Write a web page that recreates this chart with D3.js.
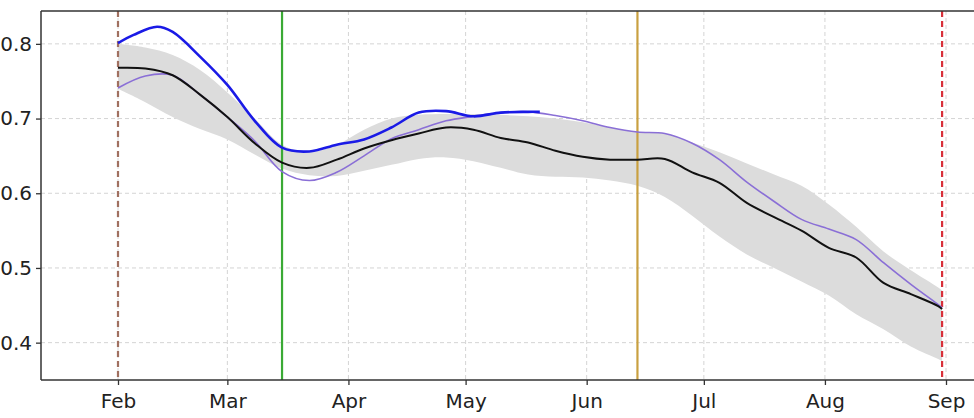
<!DOCTYPE html>
<html>
<head>
<meta charset="utf-8">
<script src="https://cdn.jsdelivr.net/npm/d3@7"></script>
<style>
  body { margin: 0; background: #fff; }
  svg { display: block; }
  .tick text { font-family: "DejaVu Sans", sans-serif; fill: #222; }
</style>
</head>
<body>
<div id="chart"></div>
<script>
// dates every week, Feb -> end of Aug
var dates = ["2021-02-01","2021-02-08","2021-02-15","2021-02-22","2021-03-01","2021-03-08",
  "2021-03-15","2021-03-22","2021-03-29","2021-04-05","2021-04-12","2021-04-19","2021-04-26",
  "2021-05-03","2021-05-10","2021-05-17","2021-05-24","2021-05-31","2021-06-07","2021-06-14",
  "2021-06-21","2021-06-28","2021-07-05","2021-07-12","2021-07-19","2021-07-26","2021-08-02",
  "2021-08-09","2021-08-16","2021-08-23","2021-08-30","2021-08-31"];

var median = [0.768,0.767,0.758,0.732,0.702,0.667,0.641,0.634,0.645,0.660,0.671,0.680,0.688,
  0.685,0.674,0.668,0.657,0.649,0.645,0.645,0.646,0.628,0.614,0.587,0.568,0.550,0.527,
  0.514,0.480,0.465,0.449,0.445];

var purple = [0.741,0.757,0.758,0.732,0.702,0.670,0.629,0.617,0.628,0.650,0.673,0.685,0.697,
  0.703,0.708,0.709,0.704,0.697,0.688,0.682,0.680,0.667,0.645,0.615,0.589,0.565,0.552,
  0.538,0.507,0.478,0.451,0.447];

var bandUpper = [0.800,0.795,0.785,0.765,0.735,0.700,0.665,0.655,0.665,0.685,0.700,0.705,0.706,
  0.706,0.705,0.703,0.700,0.695,0.688,0.682,0.680,0.668,0.655,0.640,0.625,0.610,0.585,
  0.555,0.522,0.497,0.474,0.470];

var bandLower = [0.740,0.722,0.702,0.686,0.672,0.652,0.633,0.624,0.623,0.630,0.638,0.646,0.648,
  0.643,0.634,0.625,0.622,0.621,0.617,0.610,0.595,0.570,0.542,0.518,0.500,0.482,0.463,
  0.438,0.418,0.395,0.378,0.375];

// blue series stops in late May
var blueDates = ["2021-02-01","2021-02-05","2021-02-11","2021-02-15","2021-02-22","2021-03-01","2021-03-08",
  "2021-03-15","2021-03-22","2021-03-29","2021-04-05","2021-04-12","2021-04-19","2021-04-26",
  "2021-05-03","2021-05-10","2021-05-17","2021-05-20"];
var blue = [0.801,0.812,0.823,0.816,0.783,0.745,0.697,0.661,0.656,0.665,0.672,0.688,0.708,0.710,
  0.703,0.708,0.709,0.709];

var monthTicks = ["2021-02-01","2021-03-01","2021-04-01","2021-05-01","2021-06-01",
  "2021-07-01","2021-08-01","2021-09-01"];
var yTicks = [0.4, 0.5, 0.6, 0.7, 0.8];

var vlines = [
  {date: "2021-02-01", color: "#a07060", dash: "6,4"},
  {date: "2021-03-15", color: "#3aaa35", dash: null},
  {date: "2021-06-14", color: "#c9a040", dash: null},
  {date: "2021-08-31", color: "#d8303a", dash: "6,4"}
];

var parse = d3.utcParse("%Y-%m-%d");

var margin = {top: 11, right: 0, bottom: 38, left: 41};
var W = 974, H = 418;
var width = 990 - margin.left;   // plot runs past the right edge (cropped)
var height = H - margin.top - margin.bottom;

var svg = d3.select("#chart").append("svg")
  .attr("width", W)
  .attr("height", H);

var g = svg.append("g")
  .attr("transform", "translate(" + margin.left + "," + margin.top + ")");

var x = d3.scaleUtc()
  .domain([parse("2021-02-01"), parse("2021-09-01")])
  .range([77, 905]);

var y = d3.scaleLinear()
  .domain([0.35, 0.844])
  .range([height, 0]);

// grid
g.selectAll(".vgrid").data(monthTicks).enter().append("line")
  .attr("x1", d => x(parse(d))).attr("x2", d => x(parse(d)))
  .attr("y1", 0).attr("y2", height)
  .attr("stroke", "#d4d4d4").attr("stroke-width", 1).attr("stroke-dasharray", "4,3");

g.selectAll(".hgrid").data(yTicks).enter().append("line")
  .attr("x1", 0).attr("x2", width)
  .attr("y1", d => y(d)).attr("y2", d => y(d))
  .attr("stroke", "#d4d4d4").attr("stroke-width", 1).attr("stroke-dasharray", "4,3");

var curve = d3.curveCatmullRom.alpha(0.5);

// band
var bandData = dates.map((d, i) => ({date: parse(d), lo: bandLower[i], hi: bandUpper[i]}));
g.append("path")
  .datum(bandData)
  .attr("fill", "#dcdcdc")
  .attr("d", d3.area()
    .x(d => x(d.date))
    .y0(d => y(d.lo))
    .y1(d => y(d.hi))
    .curve(curve));

// vertical markers
vlines.forEach(v => {
  g.append("line")
    .attr("x1", x(parse(v.date))).attr("x2", x(parse(v.date)))
    .attr("y1", 0).attr("y2", height)
    .attr("stroke", v.color).attr("stroke-width", 2.2)
    .attr("stroke-dasharray", v.dash);
});

var line = d3.line()
  .x(d => x(d.date))
  .y(d => y(d.v))
  .curve(curve);

g.append("path")
  .datum(dates.map((d, i) => ({date: parse(d), v: purple[i]})))
  .attr("fill", "none").attr("stroke", "#8a6fd6").attr("stroke-width", 1.6)
  .attr("d", line);

g.append("path")
  .datum(dates.map((d, i) => ({date: parse(d), v: median[i]})))
  .attr("fill", "none").attr("stroke", "#111").attr("stroke-width", 2)
  .attr("d", line);

g.append("path")
  .datum(blueDates.map((d, i) => ({date: parse(d), v: blue[i]})))
  .attr("fill", "none").attr("stroke", "#1a1ae6").attr("stroke-width", 2.6)
  .attr("d", line);

// axes
var xAxis = g.append("g")
  .attr("transform", "translate(0," + height + ")")
  .call(d3.axisBottom(x)
    .tickValues(monthTicks.map(parse))
    .tickFormat(d3.utcFormat("%b"))
    .tickSize(5).tickPadding(9));

var yAxis = g.append("g")
  .call(d3.axisLeft(y)
    .tickValues(yTicks)
    .tickFormat(d3.format(".1f"))
    .tickSize(5).tickPadding(4));

[xAxis, yAxis].forEach(a => {
  a.selectAll("text").style("font-size", "20px");
  a.selectAll(".tick line").attr("stroke", "#333").attr("stroke-width", 1.3);
  a.select(".domain").remove();
});

// spines
g.append("line").attr("x1", 0).attr("x2", 0).attr("y1", 0).attr("y2", height)
  .attr("stroke", "#333").attr("stroke-width", 1.5);
g.append("line").attr("x1", 0).attr("x2", width).attr("y1", height).attr("y2", height)
  .attr("stroke", "#333").attr("stroke-width", 1.5);
g.append("line").attr("x1", 0).attr("x2", width).attr("y1", 0).attr("y2", 0)
  .attr("stroke", "#333").attr("stroke-width", 1.5);
</script>
</body>
</html>
